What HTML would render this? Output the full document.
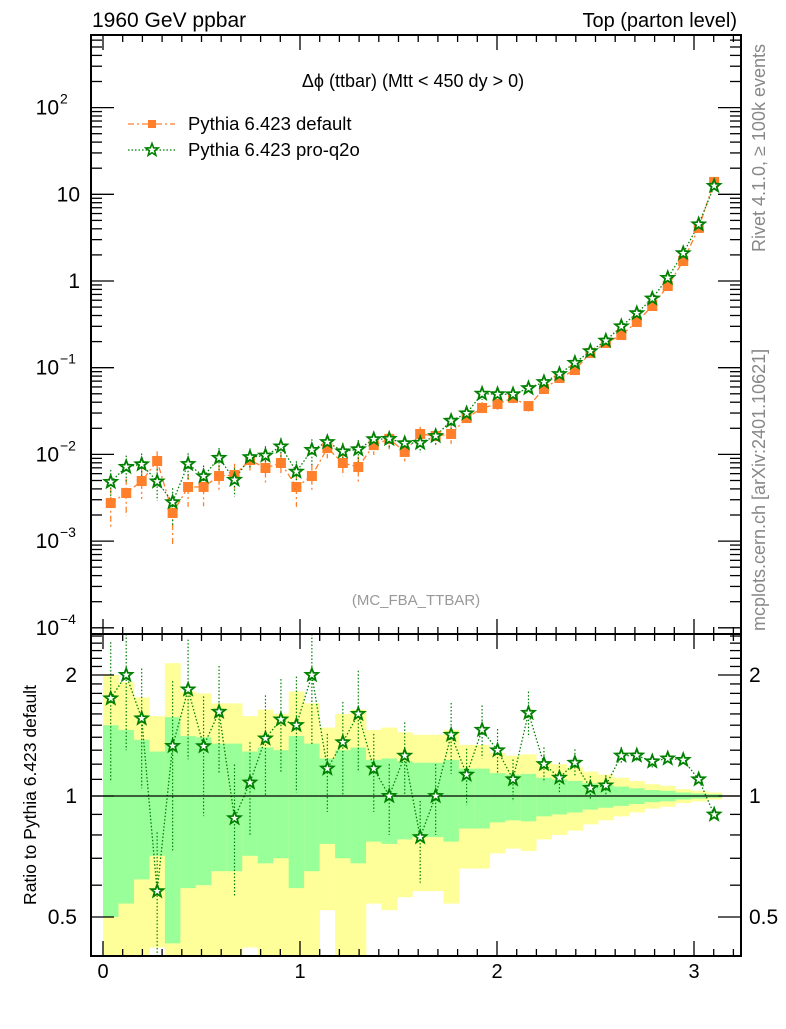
<!DOCTYPE html>
<html><head><meta charset="utf-8">
<style>
html,body{margin:0;padding:0;background:#fff;}
svg text{font-family:"Liberation Sans",sans-serif;}
</style></head>
<body>
<svg id="chart" width="786" height="1024" viewBox="0 0 786 1024" xmlns="http://www.w3.org/2000/svg">
<rect x="0" y="0" width="786" height="1024" fill="#fff"/>
<g id="ratio-bands"></g>
<g id="main-marks"></g>
<g id="ratio-marks"></g>
<g id="axes"></g>
<text x="92" y="27" font-size="21">1960 GeV ppbar</text>
<text x="737" y="27" font-size="20" text-anchor="end">Top (parton level)</text>
<text x="413" y="87" font-size="18" text-anchor="middle">Δϕ (ttbar) (Mtt &lt; 450 dy &gt; 0)</text>
<text x="416" y="605" font-size="15" fill="#999" text-anchor="middle">(MC_FBA_TTBAR)</text>
<text transform="translate(765,252) rotate(-90)" font-size="18" fill="#888">Rivet 4.1.0, ≥ 100k events</text>
<text transform="translate(765,631) rotate(-90)" font-size="18" fill="#888">mcplots.cern.ch [arXiv:2401.10621]</text>
<text transform="translate(36,795) rotate(-90)" font-size="17.5" text-anchor="middle">Ratio to Pythia 6.423 default</text>
<g>
  <g>
    <line x1="128" y1="124" x2="175" y2="124" stroke="#ff7f2a" stroke-width="1.3" stroke-dasharray="6,3,2,3"/>
    <rect x="148" y="120" width="8" height="8" fill="#ff7f2a"/>
    <text x="188" y="130" font-size="18.5">Pythia 6.423 default</text>
  </g>
  <g>
    <line x1="128" y1="150" x2="175" y2="150" stroke="#008000" stroke-width="1.3" stroke-dasharray="1.5,2"/>
    <path d="" id="legstar" fill="#fff" stroke="#008000" stroke-width="1.6"/>
    <text x="188" y="156" font-size="18.5">Pythia 6.423 pro-q2o</text>
  </g>
</g>
</svg>
<script>
// ---- data ----
const binEdgesMax = 3.14159;
const nBins = 40;
const defaultValues = [0.00275,0.00359,0.00493,0.0084,0.00211,0.00421,0.00421,0.00563,0.00578,0.00861,
0.00697,0.00796,0.00421,0.00563,0.01186,0.00796,0.00716,0.0128,0.0151,0.01067,
0.0172,0.0163,0.0172,0.0263,0.0343,0.0381,0.0448,0.0361,0.0568,0.076,
0.094,0.148,0.193,0.238,0.337,0.515,0.875,1.70,4.09,13.9];
const defaultRelErr = [0.50,0.46,0.38,0.29,0.57,0.41,0.40,0.35,0.35,0.29,
0.32,0.30,0.41,0.35,0.24,0.30,0.32,0.23,0.24,0.22,
0.21,0.21,0.23,0.17,0.17,0.14,0.13,0.135,0.11,0.10,
0.09,0.075,0.065,0.055,0.045,0.035,0.03,0.02,0.015,0.01];
const proValues = [0.00481,0.00718,0.00769,0.00487,0.00281,0.00775,0.0056,0.00912,0.00509,0.0093,
0.00969,0.01234,0.00632,0.01126,0.01388,0.01083,0.01146,0.01498,0.0151,0.01344,
0.01359,0.0163,0.02442,0.02972,0.0501,0.0495,0.0493,0.0581,0.0682,0.0844,
0.1137,0.155,0.205,0.300,0.425,0.628,1.085,2.09,4.5,12.5];
const proRelErr = [0.38,0.35,0.33,0.40,0.45,0.33,0.33,0.30,0.36,0.26,
0.28,0.26,0.32,0.33,0.22,0.26,0.28,0.22,0.20,0.21,
0.23,0.20,0.20,0.16,0.15,0.13,0.12,0.13,0.10,0.09,
0.08,0.07,0.06,0.05,0.04,0.035,0.03,0.02,0.015,0.01];
const mainTickLabels = ["10^-4","10^-3","10^-2","10^-1","1","10","10^2"];
const ratioTickLabels = ["0.5","1","2"];
const xTickLabels = ["0","1","2","3"];

// ---- axes ----
const L=91,R=741,T=35,MB=634,RT=634,RB=956;
const X0=103, XS=197;
const sx = v => X0 + v*XS;
const MY1=281, MDEC=86.7;
const sy = v => MY1 - Math.log10(v)*MDEC;
const RY1=796, RDEC=402;
const sr = v => RY1 - Math.log10(v)*RDEC;
const NS="http://www.w3.org/2000/svg";
function mk(tag, attrs, parent){const e=document.createElementNS(NS,tag);for(const k in attrs)e.setAttribute(k,attrs[k]);parent.appendChild(e);return e;}
function starPath(cx,cy,r){let d="";for(let i=0;i<10;i++){const a=-Math.PI/2+i*Math.PI/5;const rr=i%2?r*0.42:r;d+=(i?"L":"M")+(cx+rr*Math.cos(a)).toFixed(2)+","+(cy+rr*Math.sin(a)).toFixed(2);}return d+"Z";}
document.getElementById('legstar').setAttribute('d',starPath(152,150,6.5));

const bw = binEdgesMax/nBins;
const bands=document.getElementById('ratio-bands');
const clipR = v => Math.min(RB, Math.max(RT, v));
for(let i=0;i<nBins;i++){
  const x1=sx(i*bw), x2=sx((i+1)*bw), e=defaultRelErr[i];
  const yU2=clipR(sr(1+2*e)), yL2=(1-2*e)>0.01?clipR(sr(1-2*e)):RB;
  const y=mk('rect',{x:x1,y:yU2,width:x2-x1+0.3,height:yL2-yU2,fill:'#ffff99'},bands);
  
  
  const yU1=clipR(sr(1+e)), yL1=(1-e)>0.01?clipR(sr(1-e)):RB;
  const g=mk('rect',{x:x1,y:yU1,width:x2-x1+0.3,height:yL1-yU1,fill:'#99ff99'},bands);
  
  
}

// main marks
const mm=document.getElementById('main-marks');
let dPts=[],pPts=[];
for(let i=0;i<nBins;i++){const c=sx((i+0.5)*bw);dPts.push([c,sy(defaultValues[i])]);pPts.push([c,sy(proValues[i])]);}
const dl=mk('polyline',{points:dPts.map(p=>p.join(',')).join(' '),fill:'none',stroke:'#ff7f2a','stroke-width':1.3,'stroke-dasharray':'6,3,2,3'},mm);


const pl=mk('polyline',{points:pPts.map(p=>p.join(',')).join(' '),fill:'none',stroke:'#008000','stroke-width':1.3,'stroke-dasharray':'1.5,2'},mm);


for(let i=0;i<nBins;i++){
  const c=sx((i+0.5)*bw), v=defaultValues[i], e=defaultRelErr[i];
  const lo=Math.max(v*(1-e),1e-5);
  const eb=mk('line',{x1:c,x2:c,y1:sy(v*(1+e)),y2:Math.min(sy(lo),MB),stroke:'#ff7f2a','stroke-width':1.3,'stroke-dasharray':'6,3,2,3'},mm);
  
  
  const pv=proValues[i], pe=proRelErr[i];
  const pb=mk('line',{x1:c,x2:c,y1:sy(pv*(1+pe)),y2:sy(pv*(1-pe)),stroke:'#008000','stroke-width':1.2,'stroke-dasharray':'1.5,2'},mm);
  
  
  const sq=mk('rect',{x:c-5,y:sy(v)-5,width:10,height:10,fill:'#ff7f2a'},mm);
  
  
  const st=mk('path',{d:starPath(c,sy(pv),6.5),fill:'#fff',stroke:'#008000','stroke-width':1.8},mm);
  
  
}

// ratio marks
const rm=document.getElementById('ratio-marks');
let rPts=[];
for(let i=0;i<nBins;i++){rPts.push([sx((i+0.5)*bw),sr(proValues[i]/defaultValues[i])]);}
const rl=mk('polyline',{points:rPts.map(p=>p.join(',')).join(' '),fill:'none',stroke:'#008000','stroke-width':1.3,'stroke-dasharray':'1.5,2'},rm);


const one=mk('line',{x1:L,x2:R,y1:sr(1),y2:sr(1),stroke:'#000','stroke-width':1.3},rm);


for(let i=0;i<nBins;i++){
  const c=sx((i+0.5)*bw), r=proValues[i]/defaultValues[i], pe=proRelErr[i];
  const pb=mk('line',{x1:c,x2:c,y1:clipR(sr(r*(1+pe))),y2:clipR(sr(r*(1-pe))),stroke:'#008000','stroke-width':1.2,'stroke-dasharray':'1.5,2'},rm);
  
  
  const st=mk('path',{d:starPath(c,sr(r),6.5),fill:'#fff',stroke:'#008000','stroke-width':1.8},rm);
  
  
}

// frames and ticks
const ax=document.getElementById('axes');
const f1=mk('rect',{x:L,y:T,width:R-L,height:MB-T,fill:'none',stroke:'#000','stroke-width':2},ax);


const f2=mk('rect',{x:L,y:RT,width:R-L,height:RB-RT,fill:'none',stroke:'#000','stroke-width':2},ax);


function tick(x1,y1,x2,y2){const t=mk('line',{x1,y1,x2,y2,stroke:'#000','stroke-width':1.3},ax);}
for(let k=0;k<=32;k++){const v=k*0.1;const x=sx(v);if(x>R)break;const maj=k%10==0;const len=maj?15:7;
  tick(x,T,x,T+len);tick(x,MB,x,MB-len);tick(x,RT,x,RT+len);tick(x,RB,x,RB-len);}
xTickLabels.forEach((s,i)=>{const t=mk('text',{x:sx(i),y:978,'font-size':20,'text-anchor':'middle'},ax);t.textContent=s;
  });
for(let d=-4;d<=2;d++){for(let m=1;m<=9;m++){const v=m*Math.pow(10,d);const y=sy(v);if(y<T||y>MB)continue;const len=m==1?23:11;tick(L,y,L+len,y);tick(R,y,R-len,y);}}
mainTickLabels.forEach((s,i)=>{const y=sy(Math.pow(10,i-4));let t;
  if(s.indexOf('^')>=0){const [b,e]=s.split('^');t=mk('text',{x:59,y:y+7,'font-size':21,'text-anchor':'end'},ax);t.textContent=b;
    const sup=mk('text',{x:60,y:y-4,'font-size':14,'text-anchor':'start'},ax);sup.textContent=e.replace('-','−');
    }
  else{t=mk('text',{x:80,y:y+7,'font-size':21,'text-anchor':'end'},ax);t.textContent=s;}
  });
const rv=[0.4,0.5,0.6,0.7,0.8,0.9,1,1.1,1.2,1.3,1.4,1.5,1.6,1.7,1.8,1.9,2,2.1,2.2,2.3,2.4,2.5];
rv.forEach(v=>{const y=sr(v);if(y<RT||y>RB)return;const maj=[0.5,1,2].includes(v);const len=maj?23:11;tick(L,y,L+len,y);tick(R,y,R-len,y);});
ratioTickLabels.forEach(s=>{const y=sr(parseFloat(s));
  const t=mk('text',{x:77,y:y+7,'font-size':21,'text-anchor':'end'},ax);t.textContent=s;
  
  const t2=mk('text',{x:749,y:y+7,'font-size':21,'text-anchor':'start'},ax);t2.textContent=s;
  });
</script>
</body></html>
